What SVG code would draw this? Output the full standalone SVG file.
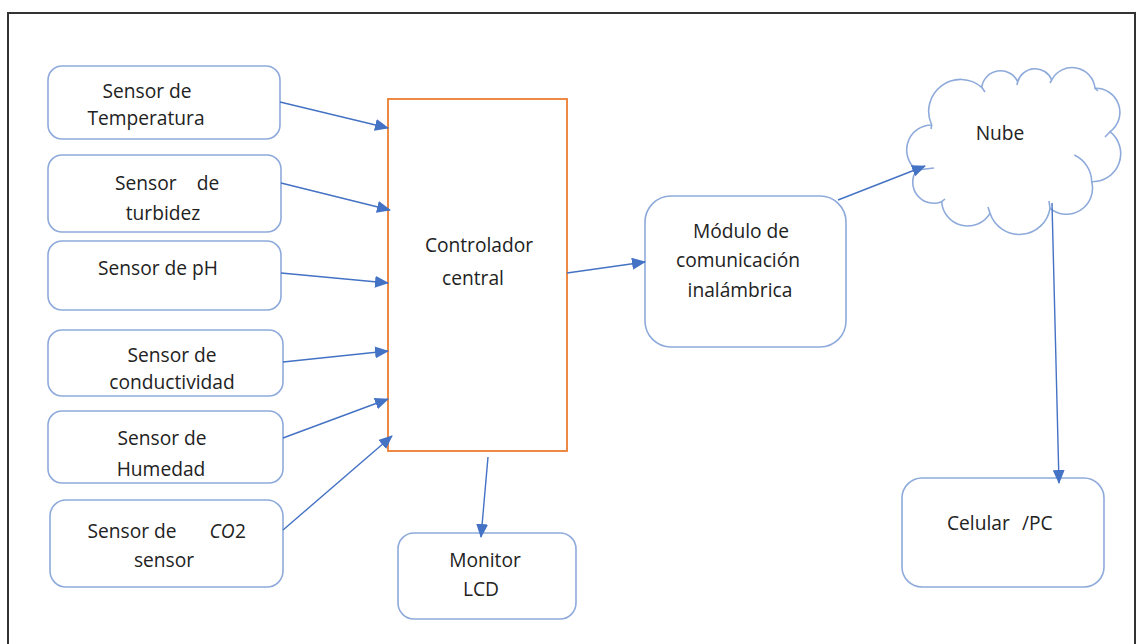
<svg xmlns="http://www.w3.org/2000/svg" width="1138" height="644" viewBox="0 0 1138 644">
<style>
.box{fill:#fff;stroke:#8eaadb;stroke-width:1.6}
.ctrl{fill:#fff;stroke:#ed7d31;stroke-width:1.8}
.cloud{fill:#fff;stroke:#8eaadb;stroke-width:1.6;stroke-linejoin:round}
.hook{fill:none;stroke:#8eaadb;stroke-width:1.6}
.lbl{font-family:"Open Sans","Noto Sans","DejaVu Sans",sans-serif;font-size:19.2px;fill:#222;text-anchor:middle}
.st{text-anchor:start}
.it{font-style:italic}
.conn line{stroke:#4472c4;stroke-width:1.4;marker-end:url(#arr)}
</style>
<defs>
<marker id="arr" markerUnits="userSpaceOnUse" markerWidth="14" markerHeight="12" refX="13" refY="6" orient="auto">
<path d="M0,0 L14,6 L0,12 z" fill="#4472c4"/>
</marker>
</defs>
<rect x="0" y="0" width="1138" height="644" fill="#fff"/>
<rect x="8" y="13" width="1127" height="645" fill="none" stroke="#333" stroke-width="2"/>

<g id="sensor-temperatura">
<rect class="box" x="48" y="66" width="232" height="73" rx="14"/>
<text class="lbl" x="147" y="98">Sensor de</text>
<text class="lbl" x="146" y="125">Temperatura</text>
</g>
<g id="sensor-turbidez">
<rect class="box" x="48" y="155" width="233" height="77" rx="14"/>
<text class="lbl st" x="115" y="190">Sensor</text>
<text class="lbl" x="208" y="190">de</text>
<text class="lbl" x="163" y="220">turbidez</text>
</g>
<g id="sensor-ph">
<rect class="box" x="48" y="241" width="233" height="69" rx="14"/>
<text class="lbl" x="158" y="275">Sensor de pH</text>
</g>
<g id="sensor-conductividad">
<rect class="box" x="48" y="330" width="235" height="66" rx="14"/>
<text class="lbl" x="172" y="362">Sensor de</text>
<text class="lbl" x="172" y="389">conductividad</text>
</g>
<g id="sensor-humedad">
<rect class="box" x="48" y="411" width="235" height="72" rx="14"/>
<text class="lbl" x="162" y="445">Sensor de</text>
<text class="lbl" x="161" y="476">Humedad</text>
</g>
<g id="sensor-co2">
<rect class="box" x="50" y="500" width="233" height="87" rx="16"/>
<text class="lbl" x="132" y="538">Sensor de</text>
<text class="lbl it" x="222" y="538">CO</text><text class="lbl st" x="235" y="538">2</text>
<text class="lbl" x="164" y="567">sensor</text>
</g>
<g id="controlador-central">
<rect class="ctrl" x="388" y="99" width="179" height="352"/>
<text class="lbl" x="479" y="252">Controlador</text>
<text class="lbl" x="473" y="285">central</text>
</g>
<g id="monitor-lcd">
<rect class="box" x="398" y="533" width="178" height="86" rx="16"/>
<text class="lbl" x="485" y="567">Monitor</text>
<text class="lbl" x="481" y="596">LCD</text>
</g>
<g id="modulo-comunicacion">
<rect class="box" x="645" y="196" width="201" height="151" rx="26"/>
<text class="lbl" x="741" y="238">Módulo de</text>
<text class="lbl" x="738" y="267">comunicación</text>
<text class="lbl" x="740" y="297">inalámbrica</text>
</g>
<g id="nube">
<path class="cloud" d="M931.7,125 A32,32 0 0 1 981.7,87.3 A19,19 0 0 1 1017.7,81.7 A18,18 0 0 1 1051.7,80 A23,23 0 0 1 1095,88.3 A24,24 0 0 1 1110,131.7 A28,28 0 0 1 1091.7,181.7 A26,26 0 0 1 1050,208.3 A31,31 0 0 1 990,213.3 A26,26 0 0 1 941.7,201.7 A21,21 0 0 1 916.7,170 A25,25 0 0 1 931.7,125 Z"/>
<path class="hook" d="M1074.3,155 A30,30 0 0 1 1091.7,181.7 M1110,131.7 L1105,137 M1050,208.3 L1049,201 M990,213.3 L988,207 M941.7,201.7 L945,199 M916.7,170 L934,168 M981.7,87.3 L985,92 M1017.7,81.7 L1017,85 M1051.7,80 L1050,83 M1095,88.3 L1098,91 M931.7,125 L931,129"/>
<text class="lbl" x="1000" y="140">Nube</text>
</g>
<g id="celular-pc">
<rect class="box" x="902" y="478" width="202" height="109" rx="20"/>
<text class="lbl st" x="947" y="530">Celular</text>
<text class="lbl st" x="1022" y="530">/PC</text>
</g>

<g id="connectors" class="conn">
<line x1="280" y1="102" x2="388" y2="128"/>
<line x1="281" y1="183" x2="390" y2="210"/>
<line x1="281" y1="273" x2="388" y2="283"/>
<line x1="283" y1="362" x2="388" y2="351"/>
<line x1="283" y1="438" x2="388" y2="399"/>
<line x1="283" y1="530" x2="392" y2="436"/>
<line x1="488" y1="457" x2="481" y2="537"/>
<line x1="567" y1="273" x2="645" y2="262"/>
<line x1="838" y1="200" x2="925" y2="166"/>
<line x1="1052" y1="203" x2="1059" y2="483"/>
</g>
</svg>
